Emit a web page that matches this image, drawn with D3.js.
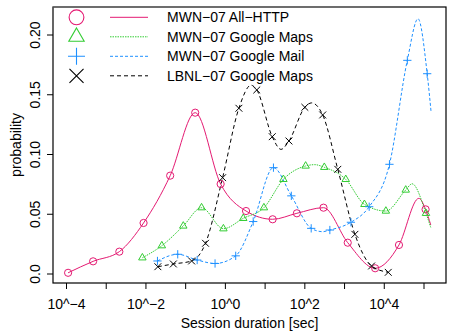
<!DOCTYPE html>
<html>
<head>
  <meta charset="utf-8">
  <title>Session duration densities</title>
  <script src="https://d3js.org/d3.v7.min.js"></script>
  <style>
    body { margin: 0; background: #fff; }
    svg text { font-family: "Liberation Sans", Arial, sans-serif; fill: #000; }
  </style>
</head>
<body>
  <script>
    // x values are log10(seconds), y values are probability
    var httpX = [-3.96, -3.33, -2.67, -2.06, -1.39, -0.76, -0.12, 0.52, 1.19, 1.80, 2.47, 3.08, 3.77, 4.37, 5.04];
    var httpY = [0.001, 0.0106, 0.0187, 0.0427, 0.0823, 0.135, 0.0753, 0.0527, 0.0458, 0.0508, 0.0555, 0.0262, 0.0048, 0.0243, 0.0541];
    var httpExtraX = [4.87, 5.17];
    var httpExtraY = [0.0633, 0.041];

    var mapsX = [-2.09, -1.60, -1.06, -0.60, -0.05, 0.45, 0.97, 1.46, 2.02, 2.49, 3.03, 3.50, 4.04, 4.54, 5.05];
    var mapsY = [0.0136, 0.0237, 0.0402, 0.0555, 0.0379, 0.0466, 0.0555, 0.0792, 0.0904, 0.0893, 0.0792, 0.0583, 0.0527, 0.0703, 0.0508];
    var mapsExtraX = [2.25, 4.70, 5.17];
    var mapsExtraY = [0.0915, 0.0755, 0.039];

    var mailX = [-1.71, -1.20, -0.71, -0.26, 0.26, 0.70, 1.21, 1.66, 2.16, 2.63, 3.16, 3.62, 4.13, 4.58, 5.08];
    var mailY = [0.0109, 0.0165, 0.0117, 0.0088, 0.0152, 0.0439, 0.089, 0.0654, 0.0382, 0.0368, 0.0433, 0.0563, 0.0918, 0.1788, 0.1676];
    var mailExtraX = [2.45, 4.85, 5.18];
    var mailExtraY = [0.0354, 0.2136, 0.135];

    var lbnlX = [-1.70, -1.31, -0.85, -0.50, -0.07, 0.34, 0.79, 1.18, 1.60, 2.00, 2.45, 2.83, 3.26, 3.68, 4.10];
    var lbnlY = [0.0061, 0.0084, 0.0109, 0.0257, 0.0806, 0.1387, 0.154, 0.1149, 0.1113, 0.1395, 0.1331, 0.0876, 0.0332, 0.0067, 0.0014];
    var lbnlExtraX = [0.645, 1.40, 2.17];
    var lbnlExtraY = [0.158, 0.1043, 0.1432];

    var names = ["MWN\u221207 All\u2212HTTP", "MWN\u221207 Google Maps", "MWN\u221207 Google Mail", "LBNL\u221207 Google Maps"];
    var xTicks = [-4, -3, -2, -1, 0, 1, 2, 3, 4, 5];
    var xLabels = [-4, -2, 0, 2, 4];
    var yTicks = [0, 0.05, 0.10, 0.15, 0.20];
    var yLabels = ["0.0", "0.05", "0.10", "0.15", "0.20"];

    var colors = ["#E41A72", "#33CC33", "#1E90FF", "#000000"];
    var dashes = [null, "1.5,1", "3,2", "4,3"];
    var shapes = ["circle", "triangle", "plus", "cross"];

    var width = 449, height = 334;
    var boxL = 53, boxR = 446, boxT = 7, boxB = 283;

    var x = d3.scaleLinear().domain([-4, 5]).range([66.5, 424]);
    var y = d3.scaleLinear().domain([0, 0.2]).range([274, 35]);

    var svg = d3.select("body").append("svg")
      .attr("width", width)
      .attr("height", height);

    function pairs(xs, ys) {
      return xs.map(function(v, i) { return [v, ys[i]]; });
    }

    var series = [
      { marks: pairs(httpX, httpY), extra: pairs(httpExtraX, httpExtraY) },
      { marks: pairs(mapsX, mapsY), extra: pairs(mapsExtraX, mapsExtraY) },
      { marks: pairs(mailX, mailY), extra: pairs(mailExtraX, mailExtraY) },
      { marks: pairs(lbnlX, lbnlY), extra: pairs(lbnlExtraX, lbnlExtraY) }
    ];

    function symbolPath(type, s) {
      if (type == "circle") {
        return "M" + s + ",0A" + s + "," + s + " 0 1,1 " + (-s) + ",0A" + s + "," + s + " 0 1,1 " + s + ",0Z";
      }
      if (type == "triangle") {
        var r = s * 1.2;
        var hx = r * Math.sqrt(3) / 2;
        return "M0," + (-r) + "L" + hx + "," + (r / 2) + "L" + (-hx) + "," + (r / 2) + "Z";
      }
      if (type == "plus") {
        var p = s * 1.15;
        return "M" + (-p) + ",0H" + p + "M0," + (-p) + "V" + p;
      }
      var c = s * 0.95;
      return "M" + (-c) + "," + (-c) + "L" + c + "," + c + "M" + (-c) + "," + c + "L" + c + "," + (-c);
    }

    var line = d3.line()
      .x(function(d) { return x(d[0]); })
      .y(function(d) { return y(d[1]); })
      .curve(d3.curveMonotoneX);

    var plot = svg.append("g");

    series.forEach(function(s, i) {
      var pts = s.marks.concat(s.extra).sort(function(a, b) { return a[0] - b[0]; });
      plot.append("path")
        .attr("d", line(pts))
        .attr("fill", "none")
        .attr("stroke", colors[i])
        .attr("stroke-width", 1)
        .attr("stroke-dasharray", dashes[i]);
    });

    series.forEach(function(s, i) {
      plot.selectAll(".m" + i)
        .data(s.marks)
        .enter()
        .append("path")
        .attr("class", "m" + i)
        .attr("transform", function(d) { return "translate(" + x(d[0]) + "," + y(d[1]) + ")"; })
        .attr("d", symbolPath(shapes[i], 3.6))
        .attr("fill", "none")
        .attr("stroke", colors[i])
        .attr("stroke-width", 1);
    });

    // box
    svg.append("rect")
      .attr("x", boxL).attr("y", boxT)
      .attr("width", boxR - boxL).attr("height", boxB - boxT)
      .attr("fill", "none").attr("stroke", "#000").attr("stroke-width", 1.2);
    svg.append("line")
      .attr("x1", boxL).attr("x2", 370).attr("y1", boxT).attr("y2", boxT)
      .attr("stroke", "#777").attr("stroke-width", 1.2);

    // x axis
    svg.selectAll(".xt")
      .data(xTicks)
      .enter()
      .append("line")
      .attr("x1", function(d) { return x(d); })
      .attr("x2", function(d) { return x(d); })
      .attr("y1", boxB)
      .attr("y2", boxB + 6)
      .attr("stroke", "#000");
    svg.selectAll(".xl")
      .data(xLabels)
      .enter()
      .append("text")
      .attr("x", function(d) { return x(d); })
      .attr("y", 309)
      .attr("text-anchor", "middle")
      .style("font-size", "14px")
      .text(function(d) { return "10^" + (d < 0 ? "\u2212" + (-d) : d); });
    svg.append("text")
      .attr("x", (boxL + boxR) / 2)
      .attr("y", 328)
      .attr("text-anchor", "middle")
      .style("font-size", "14px")
      .text("Session duration [sec]");

    // y axis
    svg.selectAll(".yt")
      .data(yTicks)
      .enter()
      .append("line")
      .attr("x1", boxL - 6)
      .attr("x2", boxL)
      .attr("y1", function(d) { return y(d); })
      .attr("y2", function(d) { return y(d); })
      .attr("stroke", "#000");
    svg.selectAll(".yl")
      .data(yTicks)
      .enter()
      .append("text")
      .attr("transform", function(d) { return "translate(40," + y(d) + ") rotate(-90)"; })
      .attr("text-anchor", "middle")
      .style("font-size", "14px")
      .text(function(d, i) { return yLabels[i]; });
    svg.append("text")
      .attr("transform", "translate(21," + ((boxT + boxB) / 2) + ") rotate(-90)")
      .attr("text-anchor", "middle")
      .style("font-size", "14px")
      .text("probability");

    // legend
    var legend = svg.selectAll(".lg")
      .data(names)
      .enter()
      .append("g")
      .attr("transform", function(d, i) { return "translate(0," + (17.3 + i * 19.5) + ")"; });
    legend.append("path")
      .attr("transform", "translate(76.5,0)")
      .attr("d", function(d, i) { return symbolPath(shapes[i], 7.4); })
      .attr("fill", "none")
      .attr("stroke", function(d, i) { return colors[i]; })
      .attr("stroke-width", 1.1);
    legend.append("line")
      .attr("x1", 110).attr("x2", 148)
      .attr("y1", 0).attr("y2", 0)
      .attr("stroke", function(d, i) { return colors[i]; })
      .attr("stroke-dasharray", function(d, i) { return dashes[i]; });
    legend.append("text")
      .attr("x", 167)
      .attr("y", 5)
      .style("font-size", "14px")
      .text(function(d) { return d; });
  </script>
</body>
</html>
